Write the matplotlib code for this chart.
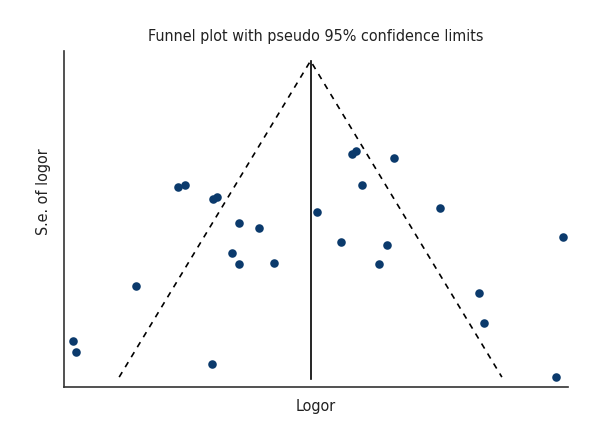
import numpy as np
import matplotlib
matplotlib.use("Agg")
import matplotlib.pyplot as plt

plt.rcParams['font.family'] = ['DejaVu Sans']
plt.rcParams['font.stretch'] = 'condensed'

# study estimates (log odds ratio) and their standard errors
logor = [-1.09, -1.03, -0.80, -0.77, -0.59, -0.42, -0.64, -0.59, -0.30,
         -1.43, -1.95, -1.92, -0.81,
         0.34, 0.37, 0.68, 0.42, 0.05, 1.06, 0.25, 0.63, 0.56,
         2.07, 1.38, 1.42, 2.01]
se = [0.319, 0.314, 0.349, 0.344, 0.410, 0.423, 0.486, 0.514, 0.511,
      0.570, 0.709, 0.737, 0.767,
      0.235, 0.228, 0.246, 0.314, 0.382, 0.372, 0.458, 0.466, 0.514,
      0.446, 0.587, 0.663, 0.800]
pooled = 0.0

se_max = max(se)

fig = plt.figure(figsize=(6, 4.4), dpi=100)
ax = fig.add_axes([0.1067, 0.1205, 0.84, 0.7636])

# pseudo 95% confidence limits
ax.plot([pooled - 1.96 * se_max, pooled, pooled + 1.96 * se_max],
        [se_max, 0, se_max], color='black', lw=1.2, linestyle=(0, (3.5, 3.5)))
ax.plot([pooled, pooled], [0, se_max + 0.005], color='black', lw=1.2)

ax.scatter(logor, se, s=38, color='#0b3a6c', zorder=3, linewidths=0)

ax.set_xlim(-2.02, 2.11)
ax.set_ylim(0.825, -0.025)
ax.set_xticks([])
ax.set_yticks([])
for side in ['top', 'right']:
    ax.spines[side].set_visible(False)
for side in ['left', 'bottom']:
    ax.spines[side].set_color('#333333')
    ax.spines[side].set_linewidth(1.2)

ax.set_title('Funnel plot with pseudo 95% confidence limits', fontsize=11.5, pad=7,
             color='#222222')
ax.set_xlabel('Logor', fontsize=11.5, labelpad=9, color='#222222')
ax.set_ylabel('S.e. of logor', fontsize=11.5, color='#222222')
ax.yaxis.set_label_coords(-0.025, 0.58)

fig.savefig('out.png', dpi=100, facecolor='white')
